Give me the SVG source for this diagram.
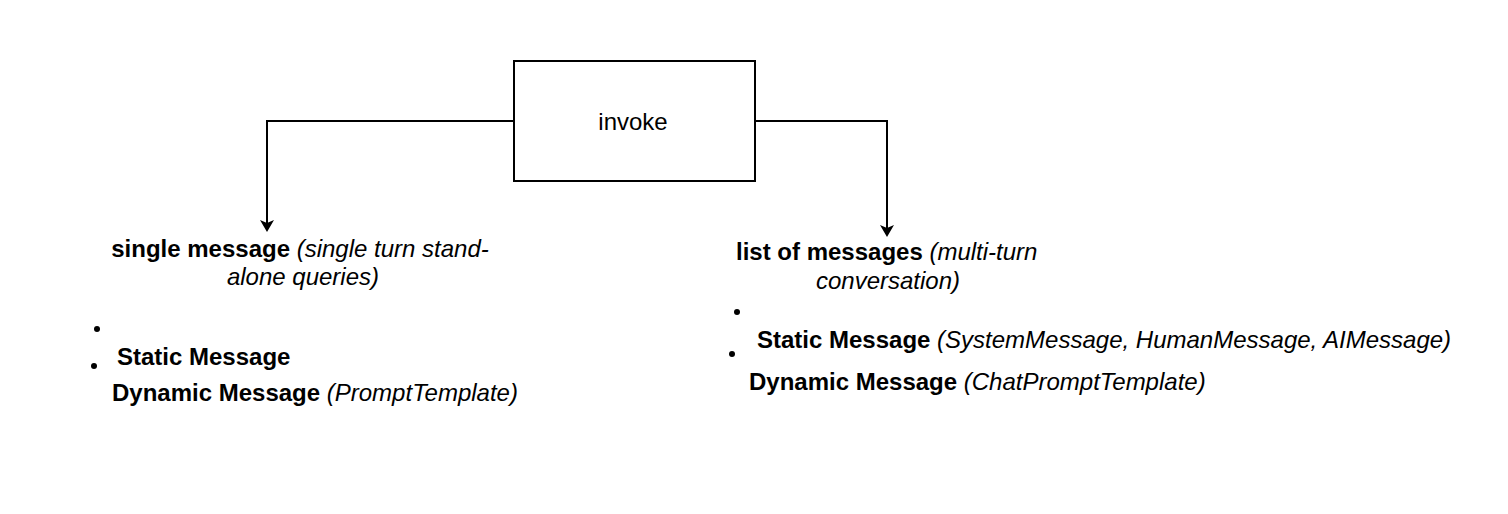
<svg xmlns="http://www.w3.org/2000/svg" width="1508" height="514" viewBox="0 0 1508 514">
<style>
text{font-family:"Liberation Sans",Arial,sans-serif;font-size:24px;fill:#000}
.b{font-weight:bold}
.i{font-style:italic}
.edge{fill:none;stroke:#000;stroke-width:2}
</style>
<defs>
<marker id="arr" markerWidth="12" markerHeight="14" refX="10" refY="7" orient="auto" markerUnits="userSpaceOnUse">
<path d="M0,0 L12,7 L0,14 L3,7 Z" fill="#000"/>
</marker>
</defs>
<rect width="1508" height="514" fill="#fff"/>
<g id="connectors">
<path class="edge" d="M514,121 H267 V230" marker-end="url(#arr)"/>
<path class="edge" d="M755,121 H887 V235" marker-end="url(#arr)"/>
</g>
<g id="invoke">
<rect x="514" y="61" width="241" height="120" fill="#fff" stroke="#000" stroke-width="2"/>
<text x="633" y="130" text-anchor="middle">invoke</text>
</g>
<g id="single">
<text x="300" y="257" text-anchor="middle"><tspan class="b">single message</tspan> <tspan class="i">(single turn stand-</tspan></text>
<text x="303" y="285" text-anchor="middle" class="i">alone queries)</text>
<circle cx="97" cy="329" r="3"/>
<circle cx="94" cy="366" r="3"/>
<text x="117" y="365" class="b">Static Message</text>
<text x="112" y="401"><tspan class="b">Dynamic Message</tspan> <tspan class="i">(PromptTemplate)</tspan></text>
</g>
<g id="list">
<text x="736" y="260"><tspan class="b">list of messages</tspan> <tspan class="i">(multi-turn</tspan></text>
<text x="888" y="289" text-anchor="middle" class="i">conversation)</text>
<circle cx="737" cy="312" r="3"/>
<circle cx="732" cy="354" r="3"/>
<text x="757" y="348"><tspan class="b">Static Message</tspan> <tspan class="i">(SystemMessage, HumanMessage, AIMessage)</tspan></text>
<text x="749" y="390"><tspan class="b">Dynamic Message</tspan> <tspan class="i">(ChatPromptTemplate)</tspan></text>
</g>
</svg>
